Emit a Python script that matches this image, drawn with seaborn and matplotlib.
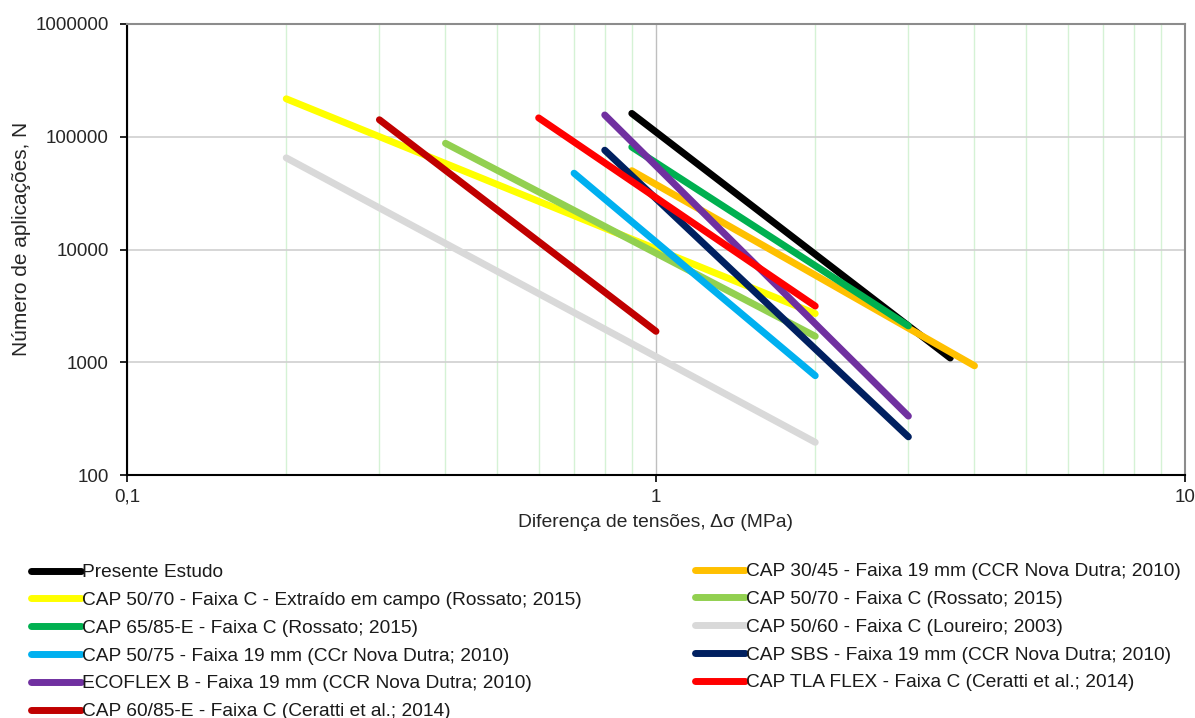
import numpy as np
import pandas as pd
import matplotlib
matplotlib.use("Agg")
import matplotlib.pyplot as plt
import seaborn as sns
from matplotlib.lines import Line2D
from matplotlib.ticker import FixedLocator, FixedFormatter, NullFormatter, LogLocator

sns.set_theme(style="white")
plt.rcParams['font.family'] = ['Liberation Sans', 'DejaVu Sans']

# Series names (Excel series order)
series = [
    "Presente Estudo",
    "CAP 30/45 - Faixa 19 mm (CCR Nova Dutra; 2010)",
    "CAP 50/70 - Faixa C - Extraído em campo (Rossato; 2015)",
    "CAP 50/70 - Faixa C (Rossato; 2015)",
    "CAP 65/85-E - Faixa C (Rossato; 2015)",
    "CAP 50/60 - Faixa C (Loureiro; 2003)",
    "CAP 50/75 - Faixa 19 mm (CCr Nova Dutra; 2010)",
    "CAP SBS - Faixa 19 mm (CCR Nova Dutra; 2010)",
    "ECOFLEX B - Faixa 19 mm (CCR Nova Dutra; 2010)",
    "CAP TLA FLEX - Faixa C (Ceratti et al.; 2014)",
    "CAP 60/85-E - Faixa C (Ceratti et al.; 2014)",
]
colors = ["#000000", "#FFC000", "#FFFF00", "#92D050", "#00B050", "#D9D9D9",
          "#00B0F0", "#002060", "#7030A0", "#FF0000", "#C00000"]

# Stress difference (MPa) at start/end of each line
x_start = [0.9, 0.9, 0.2, 0.4, 0.9, 0.2, 0.7, 0.8, 0.8, 0.6, 0.3]
x_end   = [3.6, 4.0, 2.0, 2.0, 3.0, 2.0, 2.0, 3.0, 3.0, 2.0, 1.0]
# Number of applications at start/end
n_start = [161000, 50000, 217000, 87500, 81000, 65000, 47500, 76000, 156000, 147000, 141500]
n_end   = [1090, 930, 2700, 1700, 2100, 195, 760, 218, 333, 3150, 1880]

x_ticks = [0.1, 1, 10]
x_tick_labels = ["0,1", "1", "10"]
y_ticks = [100, 1000, 10000, 100000, 1000000]
y_tick_labels = ["100", "1000", "10000", "100000", "1000000"]

rows = []
for i, s in enumerate(series):
    rows.append({"serie": s, "x": x_start[i], "N": n_start[i]})
    rows.append({"serie": s, "x": x_end[i], "N": n_end[i]})
df = pd.DataFrame(rows)

fig = plt.figure(figsize=(11.95, 7.18), dpi=100)
ax = fig.add_axes([127/1195, 1 - 475/718, (1185-127)/1195, (475-24)/718])

sns.lineplot(data=df, x="x", y="N", hue="serie", hue_order=series,
             palette=dict(zip(series, colors)), sort=False, estimator=None,
             units="serie", linewidth=5, ax=ax, legend=False)
for ln in ax.get_lines():
    ln.set_solid_capstyle("round")

ax.set_xscale("log")
ax.set_yscale("log")
ax.set_xlim(0.1, 10)
ax.set_ylim(100, 1000000)

ax.xaxis.set_major_locator(FixedLocator(x_ticks))
ax.xaxis.set_major_formatter(FixedFormatter(x_tick_labels))
ax.xaxis.set_minor_locator(LogLocator(base=10, subs=np.arange(2, 10)))
ax.xaxis.set_minor_formatter(NullFormatter())
ax.yaxis.set_major_locator(FixedLocator(y_ticks))
ax.yaxis.set_major_formatter(FixedFormatter(y_tick_labels))
ax.yaxis.set_minor_locator(FixedLocator([]))

ax.grid(False)
ax.xaxis.grid(True, which="minor", color="#D5F2D5", linewidth=1.0)
ax.xaxis.grid(True, which="major", color="#BFBFBF", linewidth=1.0)
ax.yaxis.grid(True, which="major", color="#D0D0D0", linewidth=1.2)
ax.set_axisbelow(True)

for side in ["left", "bottom"]:
    ax.spines[side].set_color("#000000")
    ax.spines[side].set_linewidth(1.5)
for side in ["top", "right"]:
    ax.spines[side].set_color("#8C8C8C")
    ax.spines[side].set_linewidth(1.5)

ax.tick_params(axis="both", which="major", direction="out", length=5, width=1.2,
               color="#000000", labelsize=13.6, labelcolor="#262626")
ax.tick_params(axis="x", which="major", bottom=True, pad=5)
ax.tick_params(axis="y", which="major", left=True, pad=8)
ax.tick_params(axis="x", which="minor", bottom=False, length=0)

ax.set_xlabel("Diferença de tensões, \u0394\u03c3 (MPa)", fontsize=13.9, color="#262626", labelpad=6)
ax.set_ylabel("Número de aplicações, N", fontsize=15, color="#262626")
ax.yaxis.set_label_coords(-(127 - 31) / 1058, (475 - 239) / 451)

left_idx = [0, 2, 4, 6, 8, 10]
right_idx = [1, 3, 5, 7, 9]

def make_handles(idx):
    return [Line2D([0], [0], color=colors[i], linewidth=5, solid_capstyle="round") for i in idx]

leg_kw = dict(frameon=False, fontsize=13.8, handlelength=2.6, handletextpad=0.05,
              labelspacing=0.54, borderpad=0, borderaxespad=0, loc="upper left",
              labelcolor="#1a1a1a")
leg1 = fig.legend(make_handles(left_idx), [series[i] for i in left_idx],
                  bbox_to_anchor=(31/1195, 1 - 564/718), **leg_kw)
leg2 = fig.legend(make_handles(right_idx), [series[i] for i in right_idx],
                  bbox_to_anchor=(695/1195, 1 - 563/718), **leg_kw)

fig.savefig("out.png", dpi=100)
